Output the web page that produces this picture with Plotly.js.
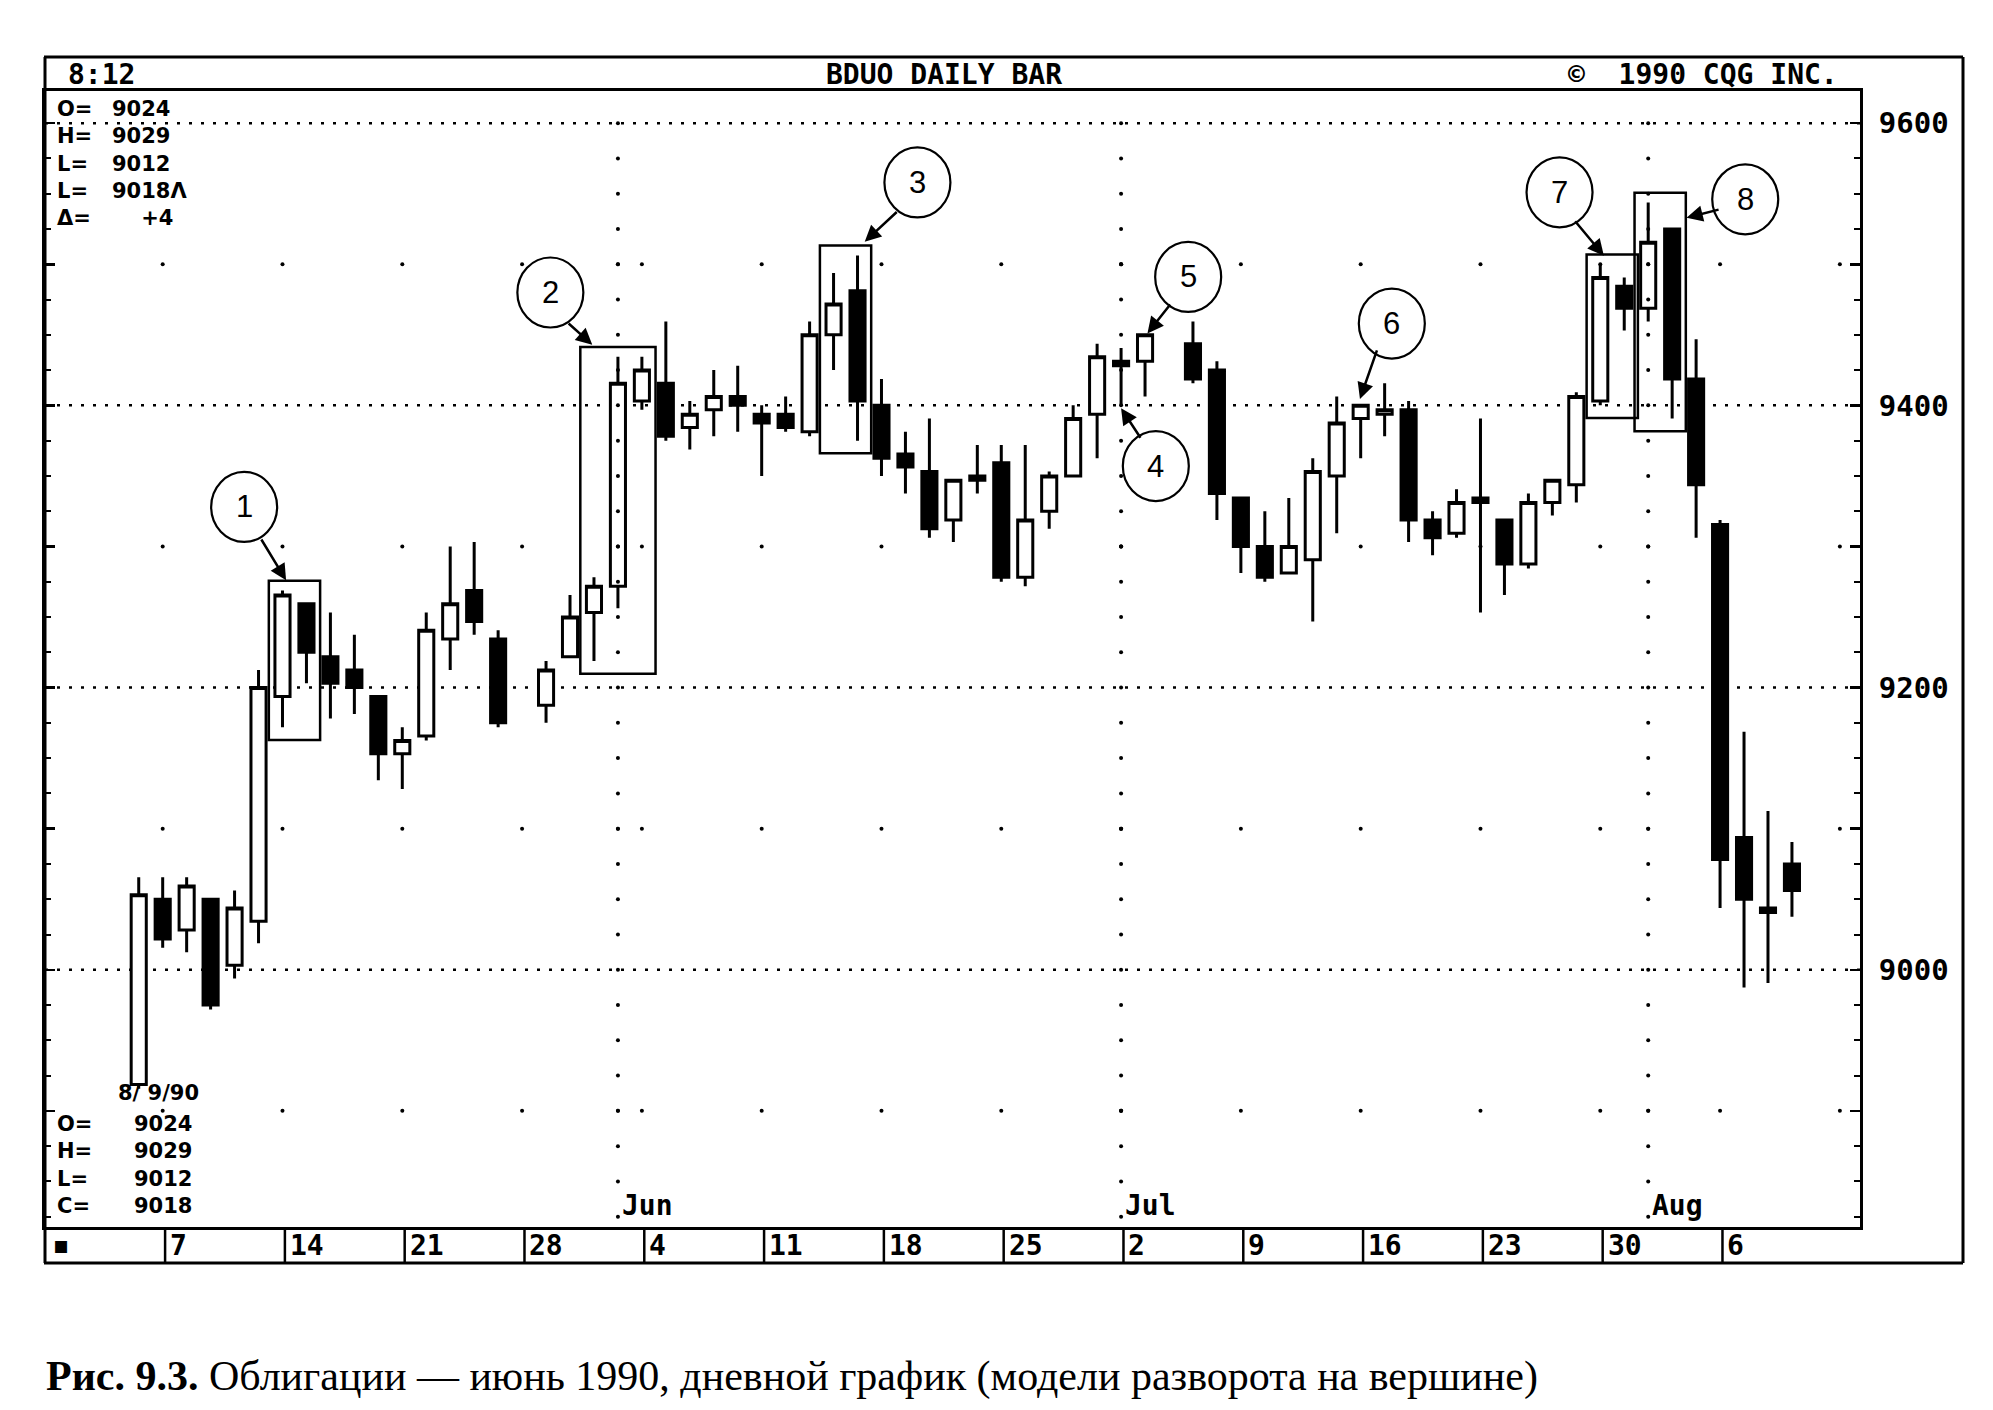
<!DOCTYPE html>
<html><head><meta charset="utf-8">
<script src="https://cdn.plot.ly/plotly-3.0.1.min.js"></script>
<style>html,body{margin:0;padding:0;background:#fff}#chart{width:1993px;height:1410px}</style>
</head><body><div id="chart"></div>
<script>
// ---- data (bond futures quotes: points-32nds, e.g. 9024 = 90 24/32) ----
const dates = [
 '1990-05-04','1990-05-07','1990-05-08','1990-05-09','1990-05-10','1990-05-11',
 '1990-05-14','1990-05-15','1990-05-16','1990-05-17','1990-05-18',
 '1990-05-21','1990-05-22','1990-05-23','1990-05-24','1990-05-25',
 '1990-05-29','1990-05-30','1990-05-31','1990-06-01',
 '1990-06-04','1990-06-05','1990-06-06','1990-06-07','1990-06-08',
 '1990-06-11','1990-06-12','1990-06-13','1990-06-14','1990-06-15',
 '1990-06-18','1990-06-19','1990-06-20','1990-06-21','1990-06-22',
 '1990-06-25','1990-06-26','1990-06-27','1990-06-28','1990-06-29',
 '1990-07-02','1990-07-03','1990-07-05','1990-07-06',
 '1990-07-09','1990-07-10','1990-07-11','1990-07-12','1990-07-13',
 '1990-07-16','1990-07-17','1990-07-18','1990-07-19','1990-07-20',
 '1990-07-23','1990-07-24','1990-07-25','1990-07-26','1990-07-27',
 '1990-07-30','1990-07-31','1990-08-01','1990-08-02','1990-08-03',
 '1990-08-06','1990-08-07','1990-08-08','1990-08-09'];
const openQ = [
 8906,9016,9009,9016,9001,9011,
 9130,9219,9207,9204,9130,
 9117,9121,9211,9222,9211,
 9128,9207,9217,9223,
 9401,9405,9327,9331,9402,
 9330,9330,9326,9416,9426,
 9400,9321,9317,9306,9316,
 9319,9225,9308,9316,9330,
 9410,9410,9414,9408,
 9311,9300,9226,9229,9316,
 9329,9330,9331,9306,9303,
 9311,9306,9228,9310,9314,
 9401,9427,9422,9508,9406,
 9305,9030,9014,9024];
const highQ = [
 9021,9021,9021,9016,9018,9204,
 9222,9219,9217,9212,9130,
 9123,9217,9300,9301,9213,
 9206,9221,9225,9411,
 9411,9419,9401,9408,9409,
 9400,9402,9419,9430,9502,
 9406,9326,9329,9315,9323,
 9323,9323,9317,9400,9414,
 9413,9416,9419,9410,
 9311,9308,9311,9320,9402,
 9400,9405,9401,9308,9313,
 9329,9306,9312,9315,9403,
 9500,9429,9514,9508,9415,
 9306,9122,9104,9029];
const lowQ = [
 8905,9005,9004,8923,8930,9006,
 9123,9201,9125,9126,9111,
 9109,9120,9204,9212,9123,
 9124,9207,9206,9218,
 9331,9324,9322,9325,9326,
 9316,9326,9325,9408,9324,
 9316,9312,9302,9301,9312,
 9224,9223,9304,9316,9320,
 9400,9402,9405,9306,
 9226,9224,9226,9215,9303,
 9320,9325,9301,9230,9302,
 9217,9221,9227,9307,9310,
 9400,9417,9419,9329,9302,
 9014,8928,8929,9012];
const closeQ = [
 9017,9007,9019,8924,9014,9200,
 9221,9208,9201,9200,9117,
 9120,9213,9219,9215,9124,
 9204,9216,9223,9405,
 9408,9325,9330,9402,9400,
 9328,9327,9416,9423,9401,
 9320,9318,9304,9315,9315,
 9225,9306,9316,9329,9411,
 9409,9416,9406,9312,
 9300,9225,9300,9317,9328,
 9400,9331,9306,9302,9310,
 9310,9228,9310,9315,9402,
 9429,9422,9505,9406,9314,
 9025,9016,9013,9018];

const weekStarts = ['1990-04-30','1990-05-07','1990-05-14','1990-05-21','1990-05-28','1990-06-04','1990-06-11',
 '1990-06-18','1990-06-25','1990-07-02','1990-07-09','1990-07-16','1990-07-23','1990-07-30','1990-08-06','1990-08-13'];
const weekLabels = ['\u25A0','7','14','21','28','4','11','18','25','2','9','16','23','30','6'];
const monthStarts = ['1990-06-01','1990-07-02','1990-08-01'];
const monthLabels = ['Jun','Jul','Aug'];
const priceTickVals = [89,90,91,92,93,94,95,96];
const priceTickText = ['','9000','','9200','','9400','','9600'];
const gridLevels = [90,92,94,96];
const dotLevels = [89,91,93,95];

const headerLeft = '8:12', headerMid = 'BDUO DAILY BAR', headerRight = '\u00A9  1990 CQG INC.';
const topInfoKeys = ['O=','H=','L=','L=','\u0394='];
const topInfoVals = ['9024','9029','9012','9018\u039B','\u2007\u2007+4'];
const bottomInfoKeys = ['O=','H=','L=','C='];
const bottomInfoVals = ['9024','9029','9012','9018'];
const bottomDate = '8/ 9/90';

// pattern call-outs: number, circle centre (trading-day slot, price points), boxed days, arrow tail/head
const calloutNum = ['1','2','3','4','5','6','7','8'];
const calloutX = [8.40,21.18,36.5,46.45,47.8,56.3,63.3,71.05];
const calloutY = [93.28,94.80,95.58,93.57,94.91,94.58,95.51,95.46];
const calloutBoxFrom = ['1990-05-14','1990-05-31','1990-06-14',null,null,null,'1990-07-30','1990-08-01'];
const calloutBoxTo   = ['1990-05-15','1990-06-04','1990-06-15',null,null,null,'1990-07-31','1990-08-02'];
const arrowTailX = [9.08,21.88,35.7,45.85,47.1,55.7,63.9,70.0];
const arrowTailY = [93.06,94.59,95.38,93.76,94.725,94.40,95.315,95.39];
const arrowHeadX = [10.15,22.93,34.3,45.0,46.1,54.97,65.15,68.6];
const arrowHeadY = [92.76,94.43,95.16,93.98,94.51,94.045,95.06,95.33];

const caption = '<b>Рис. 9.3.</b> Облигации — июнь 1990, дневной график (модели разворота на вершине)';

// ---- helpers ----
const q2p = q => Math.floor(q/100) + (q%100)/32;
const base = Date.UTC(1990,3,30);
function slot(d){const a=d.split('-').map(Number);const n=Math.round((Date.UTC(a[0],a[1]-1,a[2])-base)/864e5);return Math.floor(n/7)*5+n%7;}
const W=1993,H=1410,ML=45,MR=133,MT=91,MB=183;
const PW=W-ML-MR, PH=H-MT-MB;
const PX = X => (X-ML)/PW;
const PY = Y => (H-MB-Y)/PH;
const MONO = 'DejaVu Sans Mono';
const BLACK = '#000';

const xs = dates.map(slot);
const O = openQ.map(q2p), Hh = highQ.map(q2p), L = lowQ.map(q2p), C = closeQ.map(q2p);

const traces = [];
const mondaySlots = weekStarts.slice(1).map(slot);
const dotX=[],dotY=[];
dotLevels.forEach(lv=>{mondaySlots.concat(monthStarts.map(slot)).forEach(s=>{dotX.push(s);dotY.push(lv);});});
traces.push({type:'scatter',mode:'markers',x:dotX,y:dotY,marker:{size:4,color:BLACK},hoverinfo:'skip',showlegend:false});
const mlX=[],mlY=[];
monthStarts.map(slot).forEach(s=>{for(let v=88.25;v<=96.01;v+=0.25){mlX.push(s);mlY.push(v);}});
traces.push({type:'scatter',mode:'markers',x:mlX,y:mlY,marker:{size:4,color:BLACK},hoverinfo:'skip',showlegend:false});
traces.push({type:'candlestick',x:xs,open:O,high:Hh,low:L,close:C,
  increasing:{line:{color:BLACK,width:3},fillcolor:'#fff'},
  decreasing:{line:{color:BLACK,width:3},fillcolor:BLACK},
  whiskerwidth:0,hoverinfo:'none',showlegend:false});

const shapes = [];
const lw = 3;
shapes.push({type:'line',xref:'paper',yref:'paper',x0:PX(44),x1:PX(1963),y0:PY(57),y1:PY(57),line:{color:BLACK,width:lw}});
shapes.push({type:'line',xref:'paper',yref:'paper',x0:PX(1963),x1:PX(1963),y0:PY(57),y1:PY(1263),line:{color:BLACK,width:lw}});
shapes.push({type:'line',xref:'paper',yref:'paper',x0:PX(44),x1:PX(1963),y0:PY(1263),y1:PY(1263),line:{color:BLACK,width:lw}});
shapes.push({type:'line',xref:'paper',yref:'paper',x0:PX(45),x1:PX(45),y0:PY(57),y1:PY(1263),line:{color:BLACK,width:lw}});
mondaySlots.slice(0,weekLabels.length-1).forEach(s=>{
  shapes.push({type:'line',xref:'x',yref:'paper',x0:s+0.1,x1:s+0.1,y0:PY(1263),y1:0,line:{color:BLACK,width:2.5}});
});
gridLevels.forEach(v=>{
  shapes.push({type:'line',xref:'paper',yref:'y',x0:0,x1:1,y0:v,y1:v,line:{color:BLACK,width:2.5,dash:'3px,9px'},layer:'below'});
});
const annotations = [];
calloutNum.forEach((n,i)=>{
  if(calloutBoxFrom[i]){
    const a=slot(calloutBoxFrom[i]), b=slot(calloutBoxTo[i]);
    const idx = xs.map((x,k)=>k).filter(k=>xs[k]>=a&&xs[k]<=b);
    const lo = Math.min(...idx.map(k=>L[k])), hi = Math.max(...idx.map(k=>Hh[k]));
    shapes.push({type:'rect',xref:'x',yref:'y',x0:a-0.57,x1:b+0.57,y0:lo-0.09,y1:hi+0.07,line:{color:BLACK,width:2.5},fillcolor:'rgba(0,0,0,0)'});
  }
  shapes.push({type:'circle',xref:'x',yref:'y',xsizemode:'pixel',ysizemode:'pixel',xanchor:calloutX[i],yanchor:calloutY[i],
    x0:-33,x1:33,y0:-35,y1:35,line:{color:BLACK,width:2.2},fillcolor:'rgba(0,0,0,0)'});
  annotations.push({xref:'x',yref:'y',x:calloutX[i],y:calloutY[i],text:n,showarrow:false,font:{family:'Liberation Sans',size:31,color:BLACK}});
  annotations.push({xref:'x',yref:'y',axref:'x',ayref:'y',x:arrowHeadX[i],y:arrowHeadY[i],ax:arrowTailX[i],ay:arrowTailY[i],
    text:'',showarrow:true,arrowhead:2,arrowsize:1.3,arrowwidth:2.5,arrowcolor:BLACK,standoff:0});
});
const hf = {family:MONO,size:28,color:BLACK,weight:'bold'};
const inf = {family:'DejaVu Sans',size:21,color:BLACK,weight:'bold'};
annotations.push({xref:'paper',yref:'paper',x:PX(66),y:PY(74),xanchor:'left',yanchor:'middle',text:headerLeft,showarrow:false,font:hf});
annotations.push({xref:'paper',yref:'paper',x:PX(944),y:PY(74),xanchor:'center',yanchor:'middle',text:headerMid,showarrow:false,font:hf});
annotations.push({xref:'paper',yref:'paper',x:PX(1840),y:PY(74),xanchor:'right',yanchor:'middle',text:headerRight,showarrow:false,font:hf});
// info blocks (multi-line, two columns)
annotations.push({xref:'paper',yref:'paper',x:PX(55),y:PY(163),xanchor:'left',yanchor:'middle',align:'left',text:topInfoKeys.join('<br>'),showarrow:false,font:inf});
annotations.push({xref:'paper',yref:'paper',x:PX(110),y:PY(163),xanchor:'left',yanchor:'middle',align:'left',text:topInfoVals.join('<br>'),showarrow:false,font:inf});
annotations.push({xref:'paper',yref:'paper',x:PX(116),y:PY(1093),xanchor:'left',yanchor:'middle',text:bottomDate,showarrow:false,font:inf});
annotations.push({xref:'paper',yref:'paper',x:PX(55),y:PY(1165),xanchor:'left',yanchor:'middle',align:'left',text:bottomInfoKeys.join('<br>'),showarrow:false,font:inf});
annotations.push({xref:'paper',yref:'paper',x:PX(132),y:PY(1165),xanchor:'left',yanchor:'middle',align:'left',text:bottomInfoVals.join('<br>'),showarrow:false,font:inf});
monthStarts.forEach((d,i)=>annotations.push({xref:'x',yref:'paper',x:slot(d),y:0,xanchor:'left',yanchor:'bottom',xshift:2,yshift:3,text:monthLabels[i],showarrow:false,font:hf}));
weekLabels.forEach((t,i)=>{
  const s = i===0 ? 0.1 : slot(weekStarts[i])+0.1;
  annotations.push({xref:'x',yref:'paper',x:s,y:PY(1245),xanchor:'left',yanchor:'middle',xshift:i===0?8:3,text:t,showarrow:false,font:i===0?{family:MONO,size:20,color:BLACK}:hf});
});
annotations.push({xref:'paper',yref:'paper',x:PX(44),y:PY(1376),xanchor:'left',yanchor:'middle',text:caption,showarrow:false,font:{family:'Liberation Serif',size:42,color:BLACK}});

const layout = {
  width:W,height:H,autosize:false,
  margin:{l:ML,r:MR,t:MT,b:MB,pad:0},
  paper_bgcolor:'#fff',plot_bgcolor:'#fff',
  showlegend:false, boxgap:0.3, boxgroupgap:0.1,
  xaxis:{type:'linear',range:[0.088,75.84],showline:true,linewidth:lw,linecolor:BLACK,mirror:true,
    showticklabels:false,ticks:'',showgrid:false,zeroline:false,fixedrange:true,rangeslider:{visible:false}},
  yaxis:{type:'linear',range:[88.177,96.228],side:'right',showline:true,linewidth:lw,linecolor:BLACK,mirror:'ticks',
    ticks:'inside',ticklen:10,tickwidth:2.5,tickcolor:BLACK,tickmode:'array',tickvals:priceTickVals,ticktext:priceTickText,
    minor:{ticks:'inside',ticklen:6,tickwidth:2,tickcolor:BLACK,dtick:0.25,tick0:0,showgrid:false},
    tickfont:{family:MONO,size:29,color:BLACK,weight:'bold'},ticklabelstandoff:10,showgrid:false,zeroline:false,fixedrange:true},
  shapes:shapes,annotations:annotations
};
Plotly.newPlot('chart',traces,layout,{displayModeBar:false,staticPlot:true});
</script></body></html>
